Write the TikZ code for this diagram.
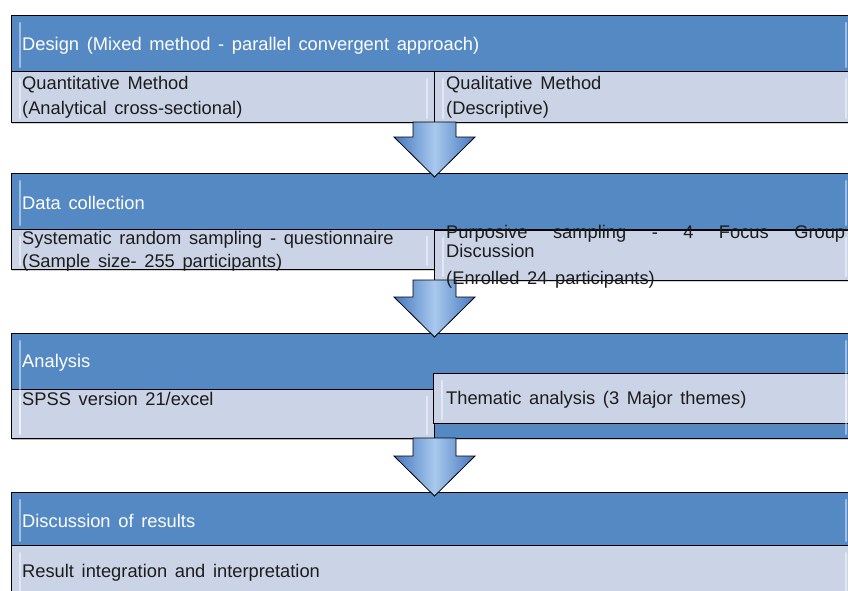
\documentclass[tikz,border=0pt]{standalone}
\usepackage{fontspec}
\setmainfont{Liberation Sans}
\usetikzlibrary{calc,shadows}

\definecolor{hdblue}{HTML}{5589C4}
\definecolor{lowblue}{HTML}{CBD4E6}
\definecolor{arrdark}{HTML}{4677BE}
\definecolor{arrlight}{HTML}{A8C9EE}
\definecolor{txtdark}{HTML}{1C1C1C}
\newcommand\widespaces{\spaceskip=.42em plus .3em\relax}

\begin{document}
\begin{tikzpicture}[x=1pt, y=-1pt,
    panel/.style={draw=black, line width=1pt, anchor=north west, inner sep=0pt, outer sep=0pt,
      drop shadow={shadow xshift=1pt, shadow yshift=-2pt, opacity=.35}},
    header/.style={panel, fill=hdblue},
    lower/.style={panel, fill=lowblue},
    bevel/.style={white, opacity=.45, line width=2.5pt, line cap=round},
    headtext/.style={anchor=base west, inner sep=0pt, text=white,
      font=\fontsize{18.3}{22}\selectfont\widespaces},
    bodytext/.style={headtext, text=txtdark},
    blockarrow/.style={draw=black, line width=.8pt, line join=miter,
      left color=arrdark, right color=arrdark, middle color=arrlight}]
    \useasboundingbox (0,0) rectangle (848,590);
    \clip (0,0) rectangle (848,590);
    \coordinate (axis) at (434.5,0);

    % Panels
    \node[header, minimum width=842, minimum height=56] (hdesign) at (11,15) {};
    \node[lower, minimum width=423, minimum height=51] (quant) at (11,71) {};
    \node[lower, minimum width=419, minimum height=51] (qual) at (434,71) {};

    \node[header, minimum width=842, minimum height=56] (hdata) at (11,173) {};
    \node[lower, minimum width=423, minimum height=40] (sysr) at (11,229) {};
    \node[lower, minimum width=419, minimum height=50] (purp) at (434,230) {};

    \node[header, minimum width=842, minimum height=105] (hanal) at (11,333) {};
    \node[lower, minimum width=423, minimum height=49] (spss) at (11,389) {};
    \node[lower, minimum width=420, minimum height=50] (them) at (433,373) {};

    \node[header, minimum width=842, minimum height=53] (hdisc) at (11,492) {};
    \node[lower, minimum width=842, minimum height=60] (result) at (11,545) {};

    % Bevel highlights
    \foreach \n in {hdesign,quant,qual,hdata,sysr,purp,hanal,spss,them,hdisc,result} {
      \draw[bevel] ($(\n.north west)+(9,8)$) -- ($(\n.south west)+(9,-4)$);
      \draw[bevel] ($(\n.north east)+(-7,8)$) -- ($(\n.south east)+(-7,-4)$);
    }

    % Block arrows between the stages
    \foreach \src/\dst in {quant/hdata, purp/hanal, spss/hdisc} {
      \path (axis |- \src.south) coordinate (s) ($(axis |- \dst.north)+(0,4)$) coordinate (t);
      \draw[blockarrow] ($(s)+(-21.5,0)$) -- ($(t)+(-21.5,-40)$) -- ($(t)+(-40.5,-40)$) -- (t)
        -- ($(t)+(40.5,-40)$) -- ($(t)+(21.5,-40)$) -- ($(s)+(21.5,0)$) -- cycle;
    }

    % Texts
    \node[headtext] (tdesign) at (22,50) {Design (Mixed method - parallel convergent approach)};
    \node[bodytext] (tquant1) at (22,89) {Quantitative Method};
    \node[bodytext] (tquant2) at (22,114) {(Analytical cross-sectional)};
    \node[bodytext] (tqual1) at (446,89) {Qualitative Method};
    \node[bodytext] (tqual2) at (446,114) {(Descriptive)};

    \node[headtext] (tdata) at (22,209) {Data collection};
    \node[bodytext] (tsys1) at (22,244) {Systematic random sampling - questionnaire};
    \node[bodytext] (tsys2) at (22,267) {(Sample size- 255 participants)};
    \node[bodytext] (tpurp1) at (446,238) {\makebox[399pt][s]{Purposive sampling - 4 Focus Group}};
    \node[bodytext] (tpurp2) at (446,257) {Discussion};
    \node[bodytext] (tpurp3) at (446,284) {(Enrolled 24 participants)};

    \node[headtext] (tanal) at (22,367) {Analysis};
    \node[bodytext] (tspss) at (22,405) {SPSS version 21/excel};
    \node[bodytext] (tthem) at (446,404) {Thematic analysis (3 Major themes)};

    \node[headtext] (tdisc) at (22,527) {Discussion of results};
    \node[bodytext] (tresult) at (22,577) {Result integration and interpretation};
\end{tikzpicture}
\end{document}
